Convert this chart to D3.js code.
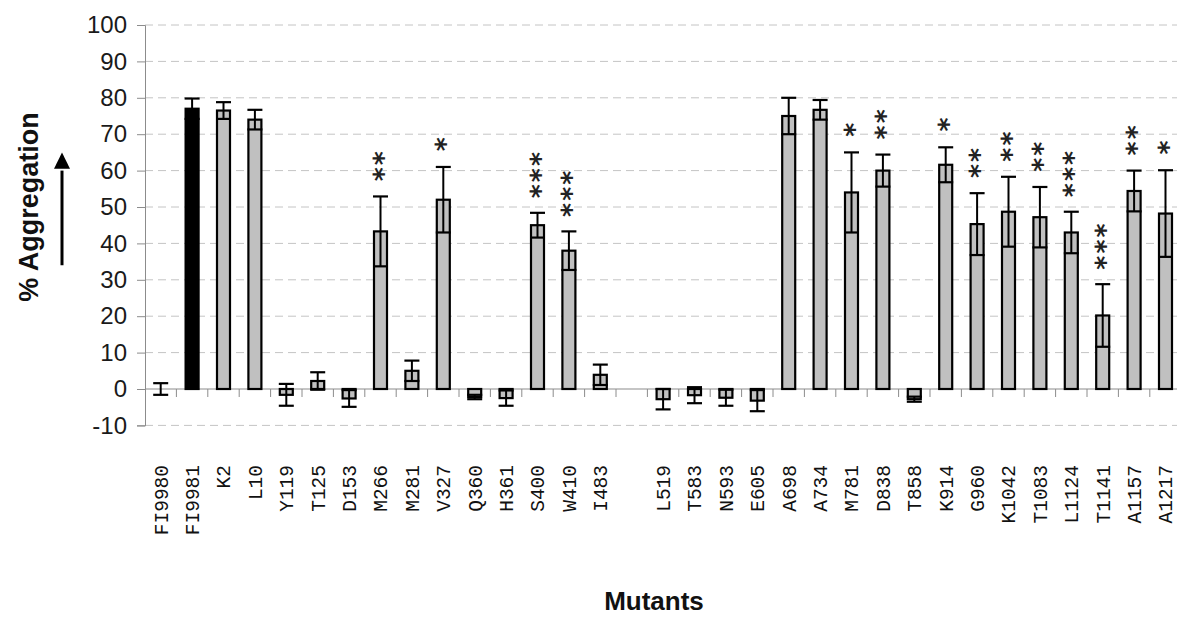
<!DOCTYPE html>
<html>
<head>
<meta charset="utf-8">
<script src="https://cdn.jsdelivr.net/npm/d3@7"></script>
<style>
    body { margin: 0; background: white; }
    #chart { width: 1177px; height: 617px; }
</style>
</head>
<body>
<div id="chart"></div>
<script>

var categories = ["FI9980", "FI9981", "K2", "L10", "Y119", "T125", "D153", "M266", "M281", "V327",
    "Q360", "H361", "S400", "W410", "I483", "", "L519", "T583", "N593", "E605", "A698", "A734",
    "M781", "D838", "T858", "K914", "G960", "K1042", "T1083", "L1124", "T1141", "A1157", "A1217"];

// mean % aggregation per mutant (null = empty slot)
var values = [0, 77, 76.5, 74, -1.6, 2.2, -2.6, 43.3, 5, 52,
    -2.2, -2.5, 45, 38, 3.9, null, -2.8, -1.7, -2.4, -3.2, 75, 76.7,
    54, 60, -2.8, 61.6, 45.3, 48.7, 47.2, 43, 20.2, 54.4, 48.2];

var errors = [1.6, 2.8, 2.3, 2.7, 3, 2.4, 2.3, 9.6, 2.8, 9,
    0.6, 2.1, 3.4, 5.3, 2.8, null, 2.8, 2.2, 2.2, 2.9, 5, 2.7,
    11, 4.4, 0.7, 4.8, 8.5, 9.6, 8.3, 5.7, 8.6, 5.6, 11.9];

var stars = ["", "", "", "", "", "", "", "**", "", "*",
    "", "", "***", "***", "", "", "", "", "", "", "", "",
    "*", "**", "", "*", "**", "**", "**", "***", "***", "**", "*"];

var controls = ["FI9981"];

var yTicks = [-10, 0, 10, 20, 30, 40, 50, 60, 70, 80, 90, 100];

var width = 1177;
var height = 617;

var svg = d3.select("#chart")
    .append("svg")
    .attr("width", width)
    .attr("height", height);

var x = d3.scaleBand()
    .domain(categories)
    .range([145, 145 + 31.4 * categories.length]);

var y = d3.scaleLinear()
    .domain([-10, 100])
    .range([425.4, 25]);

var data = categories.map(function(c, i) {
    return { name: c, value: values[i], err: errors[i], stars: stars[i] };
}).filter(function(d) { return d.value !== null; });

// grid lines
svg.append("g")
    .selectAll("line")
    .data(yTicks.filter(function(t) { return t !== 0; }))
    .enter()
    .append("line")
        .attr("x1", 145)
        .attr("x2", width)
        .attr("y1", function(d) { return y(d); })
        .attr("y2", function(d) { return y(d); })
        .attr("stroke", "#c4c4c4")
        .attr("stroke-width", 1)
        .attr("stroke-dasharray", "8,5");

// y axis
var yAxis = svg.append("g")
    .attr("transform", "translate(145,0)")
    .call(d3.axisLeft(y).tickValues(yTicks).tickSize(8).tickPadding(10)
        .tickFormat(function(d) { return String(d); }));
yAxis.select(".domain").attr("stroke", "#8c8c8c");
yAxis.selectAll(".tick line").attr("stroke", "#8c8c8c");
yAxis.selectAll("text")
    .attr("font-family", "Arial, 'Liberation Sans', sans-serif")
    .attr("font-size", "24px")
    .attr("fill", "#1a1a1a");

// zero line with category ticks
var xAxis = svg.append("g")
    .attr("transform", "translate(0," + y(0) + ")");
xAxis.append("line")
    .attr("x1", 145)
    .attr("x2", width)
    .attr("stroke", "#8c8c8c")
    .attr("stroke-width", 1.2);
xAxis.selectAll(".cat-tick")
    .data(categories)
    .enter()
    .append("line")
        .attr("class", "cat-tick")
        .attr("x1", function(d) { return x(d) + x.bandwidth(); })
        .attr("x2", function(d) { return x(d) + x.bandwidth(); })
        .attr("y1", 0)
        .attr("y2", 8)
        .attr("stroke", "#8c8c8c");

var barW = 13;

// bars
svg.append("g")
    .selectAll("rect")
    .data(data.filter(function(d) { return d.value !== 0; }))
    .enter()
    .append("rect")
        .attr("x", function(d) { return x(d.name) + x.bandwidth() / 2 - barW / 2; })
        .attr("y", function(d) { return y(Math.max(0, d.value)); })
        .attr("width", barW)
        .attr("height", function(d) { return Math.abs(y(d.value) - y(0)); })
        .attr("fill", function(d) { return controls.indexOf(d.name) >= 0 ? "#000" : "#c0c0c0"; })
        .attr("stroke", "#000")
        .attr("stroke-width", 2.2);

// error bars
var eb = svg.append("g")
    .selectAll("g")
    .data(data)
    .enter()
    .append("g")
        .attr("transform", function(d) { return "translate(" + (x(d.name) + x.bandwidth() / 2) + ",0)"; });

eb.append("line")
    .attr("y1", function(d) { return y(d.value - d.err); })
    .attr("y2", function(d) { return y(d.value + d.err); })
    .attr("stroke", "#000")
    .attr("stroke-width", 2);

eb.append("line")
    .attr("x1", -7.5)
    .attr("x2", 7.5)
    .attr("y1", function(d) { return y(d.value + d.err); })
    .attr("y2", function(d) { return y(d.value + d.err); })
    .attr("stroke", "#000")
    .attr("stroke-width", 2.2);

eb.append("line")
    .attr("x1", -7.5)
    .attr("x2", 7.5)
    .attr("y1", function(d) { return y(d.value - d.err); })
    .attr("y2", function(d) { return y(d.value - d.err); })
    .attr("stroke", "#000")
    .attr("stroke-width", 2.2);

// significance stars: one string per bar, turned to run downwards so the stars stack
var starSize = 27;
var starGap = 15.5;
eb.filter(function(d) { return d.stars.length > 0; })
    .append("text")
        .attr("transform", function(d) {
            var top = y(d.value + d.err) - 22 - (d.stars.length - 1) * starGap - starGap / 2;
            return "translate(0," + top + ") rotate(90)";
        })
        .attr("dy", "0.59em")
        .attr("letter-spacing", (starGap - starSize * 0.5) + "px")
        .attr("font-family", "'DejaVu Sans', sans-serif")
        .attr("font-weight", "bold")
        .attr("font-size", starSize + "px")
        .attr("fill", "#222")
        .text(function(d) { return d.stars; });

// category labels
svg.append("g")
    .selectAll("text")
    .data(categories)
    .enter()
    .append("text")
        .attr("transform", function(d) { return "translate(" + (x(d) + x.bandwidth() / 2) + ",465) rotate(-90)"; })
        .attr("dy", "0.35em")
        .attr("text-anchor", "end")
        .attr("font-family", "'Courier New', 'Liberation Mono', monospace")
        .attr("font-size", "19.5px")
        .attr("fill", "#111")
        .text(function(d) { return d; });

// axis titles
svg.append("text")
    .attr("transform", "translate(38," + 207 + ") rotate(-90)")
    .attr("text-anchor", "middle")
    .attr("font-family", "Arial, 'Liberation Sans', sans-serif")
    .attr("font-weight", "bold")
    .attr("font-size", "27px")
    .attr("fill", "#111")
    .text("% Aggregation");

svg.append("text")
    .attr("x", 654)
    .attr("y", 610)
    .attr("text-anchor", "middle")
    .attr("font-family", "Arial, 'Liberation Sans', sans-serif")
    .attr("font-weight", "bold")
    .attr("font-size", "26px")
    .attr("fill", "#111")
    .text("Mutants");

// upward arrow beside the y title
svg.append("line")
    .attr("x1", 62)
    .attr("x2", 62)
    .attr("y1", y(34))
    .attr("y2", y(60))
    .attr("stroke", "#000")
    .attr("stroke-width", 3);
svg.append("path")
    .attr("d", "M" + 62 + "," + y(65) + " L" + 70 + "," + y(60.5) + " L" + 54 + "," + y(60.5) + " Z")
    .attr("fill", "#000");

</script>
</body>
</html>
